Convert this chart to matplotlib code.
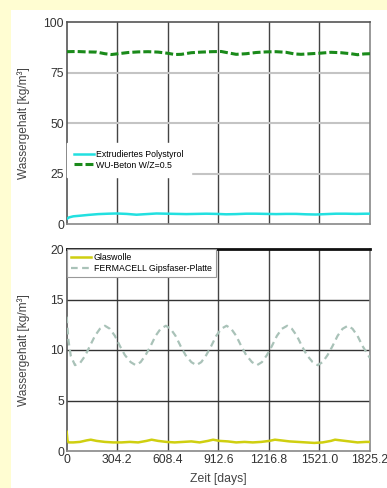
import matplotlib
matplotlib.use("Agg")
import matplotlib.pyplot as plt
from matplotlib.patches import Rectangle

plt.rcParams['font.family'] = ['Liberation Sans', 'DejaVu Sans']

# x axis ticks
x_ticks = [0, 304.2, 608.4, 912.6, 1216.8, 1521.0, 1825.2]
x_tick_labels = ['0', '304.2', '608.4', '912.6', '1216.8', '1521.0', '1825.2']

# top panel data (kg/m3)
beton_days = [0, 60, 120, 180, 230, 270, 310, 370, 430, 490, 550, 610, 650, 690,
              750, 810, 870, 930, 980, 1020, 1080, 1140, 1200, 1260, 1320, 1370,
              1410, 1470, 1530, 1590, 1650, 1710, 1750, 1790, 1825]
beton_vals = [85.3, 85.4, 85.2, 85.1, 84.3, 83.9, 84.3, 84.9, 85.2, 85.3, 85.1, 84.5, 83.9, 84.0,
              84.8, 85.1, 85.3, 85.4, 84.6, 84.0, 84.3, 84.9, 85.2, 85.3, 85.0, 84.2,
              84.0, 84.3, 84.6, 85.0, 84.8, 84.3, 83.8, 84.2, 84.3]

poly_days = [0, 15, 40, 80, 130, 190, 250, 300, 360, 420, 480, 540, 600, 660, 720,
             780, 840, 900, 960, 1020, 1080, 1140, 1200, 1260, 1320, 1380, 1440,
             1500, 1560, 1620, 1680, 1740, 1800, 1825]
poly_vals = [2.5, 3.3, 3.8, 4.1, 4.5, 4.9, 5.1, 5.2, 5.0, 4.6, 4.9, 5.2, 5.1, 5.0, 4.9,
             5.0, 5.1, 5.0, 4.8, 4.9, 5.1, 5.1, 5.0, 4.9, 5.0, 5.0, 4.8,
             4.7, 4.9, 5.1, 5.1, 5.0, 5.1, 5.1]

# bottom panel data (kg/m3)
gips_days = [0, 10, 25, 50, 80, 110, 140, 170, 200, 230, 260, 290, 320, 350,
             385, 415, 445, 475, 505, 535, 565, 597, 625, 655, 685, 715, 750,
             780, 810, 840, 870, 900, 930, 962, 990, 1020, 1050, 1080, 1115,
             1145, 1175, 1205, 1235, 1265, 1295, 1327, 1355, 1385, 1415, 1445, 1480,
             1510, 1540, 1570, 1600, 1630, 1660, 1692, 1720, 1750, 1780, 1810, 1825]
gips_vals = [13.3, 11.0, 9.4, 8.5, 8.7, 9.4, 10.4, 11.4, 12.1, 12.4, 12.1, 11.4, 10.4, 9.5,
             8.8, 8.5, 8.8, 9.5, 10.4, 11.4, 12.1, 12.4, 12.1, 11.4, 10.4, 9.5, 8.8,
             8.5, 8.8, 9.5, 10.4, 11.4, 12.1, 12.4, 12.1, 11.4, 10.4, 9.5, 8.8,
             8.5, 8.8, 9.5, 10.4, 11.4, 12.1, 12.4, 12.1, 11.4, 10.4, 9.5, 8.8,
             8.5, 8.8, 9.5, 10.4, 11.4, 12.1, 12.4, 12.1, 11.4, 10.4, 9.6, 9.2]

glas_days = [0, 5, 12, 40, 80, 120, 145, 180, 230, 280, 330, 380, 430, 480, 511,
             550, 600, 650, 700, 750, 800, 850, 881, 920, 970, 1020, 1070, 1120,
             1170, 1220, 1253, 1290, 1340, 1390, 1440, 1490, 1540, 1590, 1615, 1650,
             1700, 1750, 1800, 1825]
glas_vals = [1.9, 1.0, 0.85, 0.85, 0.9, 1.05, 1.12, 1.0, 0.9, 0.85, 0.85, 0.9, 0.85, 1.0, 1.12,
             1.0, 0.9, 0.85, 0.9, 0.95, 0.85, 1.0, 1.12, 1.0, 0.95, 0.85, 0.9, 0.85,
             0.9, 1.0, 1.12, 1.05, 0.95, 0.9, 0.85, 0.8, 0.85, 1.0, 1.12, 1.05,
             0.95, 0.85, 0.9, 0.9]

fig = plt.figure(figsize=(3.87, 4.88), dpi=100)
fig.patch.set_facecolor('#fffdd2')
fig.patches.append(Rectangle((11 / 387, 0), 1, 1 - 10 / 488, transform=fig.transFigure,
                             facecolor='white', edgecolor='none', zorder=-10))

ax1 = fig.add_axes([0.1723, 1 - 224 / 488, 0.7838, 202 / 488])
ax2 = fig.add_axes([0.1723, 1 - 451 / 488, 0.7838, 202 / 488])

ax1.plot(poly_days, poly_vals, color='#22e0e0', lw=1.8, label='Extrudiertes Polystyrol', zorder=3)
ax1.plot(beton_days, beton_vals, color='#1a8a1a', lw=2.2, dashes=(2.6, 1.0),
         label='WU-Beton W/Z=0.5', zorder=3)
ax1.set_ylim(0, 100)
ax1.set_yticks([0, 25, 50, 75, 100])
ax1.set_yticklabels(['0', '25', '50', '75', '100'])

ax2.plot(glas_days, glas_vals, color='#cfcf10', lw=1.8, label='Glaswolle', zorder=3)
ax2.plot(gips_days, gips_vals, color='#a9c2b8', lw=1.6, dashes=(3.0, 2.0),
         label='FERMACELL Gipsfaser-Platte', zorder=3)
ax2.set_ylim(0, 20)
ax2.set_yticks([0, 5, 10, 15, 20])
ax2.set_yticklabels(['0', '5', '10', '15', '20'])

for ax in (ax1, ax2):
    ax.set_xlim(0, 1825.2)
    ax.set_xticks(x_ticks)
    ax.tick_params(length=0, labelsize=8.8, colors='#333333', pad=2)
    ax.set_ylabel('Wassergehalt [kg/m³]', fontsize=8.6, color='#444444')
    ax.yaxis.set_label_coords(-0.12, 0.5)
    for x in x_ticks[1:-1]:
        ax.axvline(x, color='#444444', lw=1.0, zorder=1)
    for s in ('left', 'right', 'bottom', 'top'):
        ax.spines[s].set_color('#888888')
        ax.spines[s].set_linewidth(1.2)
    ax.spines['left'].set_color('#555555')

ax1.set_xticklabels([])
for y in [25, 50, 75]:
    ax1.axhline(y, color='#c4c4c4', lw=1.5, zorder=1)
ax1.spines['top'].set_color('#555555')

ax2.set_xticklabels(x_tick_labels)
for y in [5, 10, 15]:
    ax2.axhline(y, color='#333333', lw=1.0, zorder=1)
ax2.spines['top'].set_color('#111111')
ax2.spines['top'].set_linewidth(2.0)
ax2.set_xlabel('Zeit [days]', fontsize=8.8, color='#444444', labelpad=5)

leg1 = ax1.legend(loc='upper left', bbox_to_anchor=(0.0, 0.40), borderaxespad=0,
                  fontsize=6.3, frameon=True, fancybox=False, framealpha=1,
                  facecolor='white', edgecolor='white', handlelength=2.3,
                  handletextpad=0.3, labelspacing=0.15, borderpad=0.8)
leg1.set_zorder(5)
leg2 = ax2.legend(loc='upper left', bbox_to_anchor=(0.0, 1.0), borderaxespad=0,
                  fontsize=6.3, frameon=True, fancybox=False, framealpha=1,
                  facecolor='white', edgecolor='#999999', handlelength=2.3,
                  handletextpad=0.3, labelspacing=0.15, borderpad=0.5)
leg2.get_frame().set_linewidth(0.8)
leg2.set_zorder(5)

fig.savefig('out.png', dpi=100, facecolor=fig.get_facecolor())
